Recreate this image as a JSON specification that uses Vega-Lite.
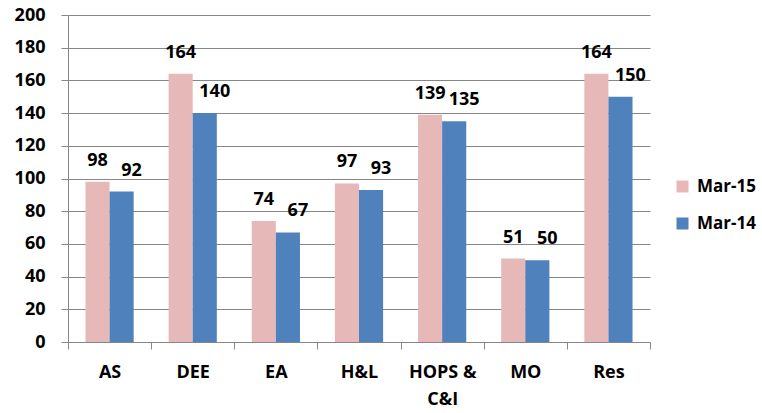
{
  "$schema": "https://vega.github.io/schema/vega-lite/v6.json",
  "width": 582,
  "height": 327,
  "autosize": {"type": "none"},
  "padding": {"left": 68, "top": 15, "right": 112, "bottom": 71},
  "background": "white",
  "config": {
    "font": "Open Sans",
    "view": {"stroke": null}
  },
  "data": {
    "values": [
      {"dept": "AS", "period": "Mar-15", "value": 98},
      {"dept": "AS", "period": "Mar-14", "value": 92},
      {"dept": "DEE", "period": "Mar-15", "value": 164},
      {"dept": "DEE", "period": "Mar-14", "value": 140},
      {"dept": "EA", "period": "Mar-15", "value": 74},
      {"dept": "EA", "period": "Mar-14", "value": 67},
      {"dept": "H&L", "period": "Mar-15", "value": 97},
      {"dept": "H&L", "period": "Mar-14", "value": 93},
      {"dept": "HOPS & C&I", "period": "Mar-15", "value": 139},
      {"dept": "HOPS & C&I", "period": "Mar-14", "value": 135},
      {"dept": "MO", "period": "Mar-15", "value": 51},
      {"dept": "MO", "period": "Mar-14", "value": 50},
      {"dept": "Res", "period": "Mar-15", "value": 164},
      {"dept": "Res", "period": "Mar-14", "value": 150}
    ]
  },
  "encoding": {
    "x": {
      "field": "dept",
      "type": "nominal",
      "sort": null,
      "scale": {"paddingInner": 0, "paddingOuter": 0},
      "axis": {
        "title": null,
        "labelAngle": 0,
        "labelFontSize": 18,
        "labelFontWeight": "bold",
        "labelColor": "#000000",
        "labelPadding": 14,
        "labelLineHeight": 27,
        "labelExpr": "datum.label == 'HOPS & C&I' ? ['HOPS &', 'C&I'] : datum.label",
        "tickBand": "extent",
        "tickSize": 7,
        "tickColor": "#868686",
        "domainColor": "#868686",
        "grid": false
      }
    },
    "xOffset": {
      "field": "period",
      "type": "nominal",
      "scale": {"domain": ["Mar-15", "Mar-14"], "paddingInner": 0, "paddingOuter": 0.725}
    },
    "y": {
      "field": "value",
      "type": "quantitative",
      "scale": {"domain": [0, 200], "nice": false},
      "axis": {
        "title": null,
        "values": [0, 20, 40, 60, 80, 100, 120, 140, 160, 180, 200],
        "labelFontSize": 18,
        "labelFontWeight": "bold",
        "labelColor": "#000000",
        "labelPadding": 16,
        "tickSize": 7,
        "tickColor": "#868686",
        "domainColor": "#868686",
        "grid": true,
        "gridColor": "#868686",
        "gridWidth": 1
      }
    }
  },
  "layer": [
    {
      "mark": {"type": "bar"},
      "encoding": {
        "color": {
          "field": "period",
          "type": "nominal",
          "scale": {"domain": ["Mar-15", "Mar-14"], "range": ["#E6B9B8", "#4F81BD"]},
          "legend": {
            "title": null,
            "orient": "none",
            "legendX": 606,
            "legendY": 163,
            "padding": 0,
            "symbolType": "square",
            "symbolSize": 144,
            "symbolStrokeWidth": 0,
            "labelFontSize": 17,
            "labelFontWeight": "bold",
            "labelColor": "#000000",
            "labelOffset": 6,
            "rowPadding": 19
          }
        }
      }
    },
    {
      "transform": [{"filter": "datum.period == 'Mar-15'"}],
      "mark": {"type": "text", "baseline": "alphabetic", "dy": -16, "fontSize": 18, "fontWeight": "bold", "color": "#000000"},
      "encoding": {"text": {"field": "value", "type": "quantitative"}}
    },
    {
      "transform": [{"filter": "datum.period == 'Mar-14'"}],
      "mark": {"type": "text", "baseline": "alphabetic", "dy": -16, "dx": 10, "fontSize": 18, "fontWeight": "bold", "color": "#000000"},
      "encoding": {"text": {"field": "value", "type": "quantitative"}}
    }
  ]
}
